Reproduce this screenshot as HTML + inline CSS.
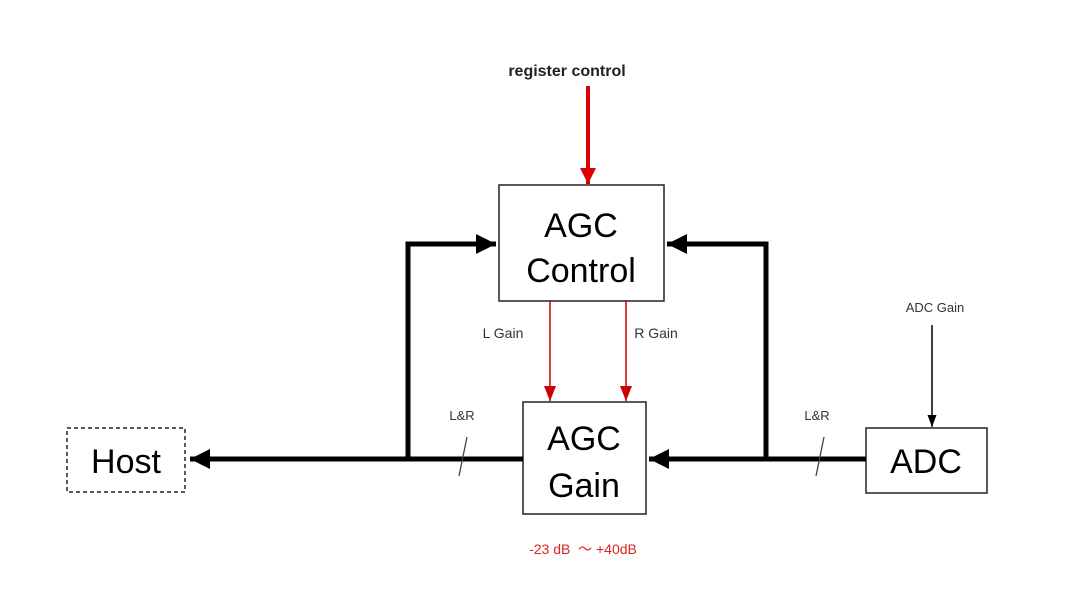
<!DOCTYPE html>
<html><head><style>
html,body{margin:0;padding:0;background:#fff;}
svg{display:block;font-family:"Liberation Sans",Arial,sans-serif;}
</style></head><body>
<svg width="1071" height="592" viewBox="0 0 1071 592" xmlns="http://www.w3.org/2000/svg">
<defs>
<marker id="bk" markerWidth="4" markerHeight="4" refX="4" refY="2" orient="auto" markerUnits="strokeWidth"><path d="M0,0 L4,2 L0,4 z" fill="#000"/></marker>
<marker id="bkt" markerWidth="8" markerHeight="8" refX="8" refY="4" orient="auto" markerUnits="strokeWidth"><path d="M0,1 L8,4 L0,7 z" fill="#000"/></marker>
<marker id="rd" markerWidth="4" markerHeight="4" refX="4" refY="2" orient="auto" markerUnits="strokeWidth"><path d="M0,0 L4,2 L0,4 z" fill="#d00"/></marker>
<marker id="rdt" markerWidth="10" markerHeight="10" refX="10" refY="5" orient="auto" markerUnits="strokeWidth"><path d="M0,1 L10,5 L0,9 z" fill="#c00"/></marker>
</defs>
<rect x="499" y="185" width="165" height="116" fill="#fff" stroke="#222" stroke-width="1.5"/>
<rect x="523" y="402" width="123" height="112" fill="#fff" stroke="#222" stroke-width="1.5"/>
<rect x="866" y="428" width="121" height="65" fill="#fff" stroke="#222" stroke-width="1.5"/>
<rect x="67" y="428" width="118" height="64" fill="#fff" stroke="#222" stroke-width="1.5" stroke-dasharray="4,3"/>
<text x="581" y="237" font-size="34" text-anchor="middle">AGC</text>
<text x="581" y="282" font-size="34" text-anchor="middle">Control</text>
<text x="584" y="450" font-size="34" text-anchor="middle">AGC</text>
<text x="584" y="497" font-size="34" text-anchor="middle">Gain</text>
<text x="926" y="473" font-size="34" text-anchor="middle">ADC</text>
<text x="126" y="473" font-size="34" text-anchor="middle">Host</text>
<g stroke="#000" stroke-width="5" fill="none">
<line x1="523" y1="459" x2="190" y2="459" marker-end="url(#bk)"/>
<polyline points="408,459 408,244 496,244" marker-end="url(#bk)"/>
<line x1="866" y1="459" x2="649" y2="459" marker-end="url(#bk)"/>
<polyline points="766,459 766,244 667,244" marker-end="url(#bk)"/>
</g>
<line x1="932" y1="325" x2="932" y2="427" stroke="#000" stroke-width="1.5" marker-end="url(#bkt)"/>
<line x1="588" y1="86" x2="588" y2="184" stroke="#d00" stroke-width="4" marker-end="url(#rd)"/>
<line x1="550" y1="301" x2="550" y2="401" stroke="#c00" stroke-width="1.5" marker-end="url(#rdt)"/>
<line x1="626" y1="301" x2="626" y2="401" stroke="#c00" stroke-width="1.5" marker-end="url(#rdt)"/>
<line x1="467" y1="437" x2="459" y2="476" stroke="#444" stroke-width="1.3"/>
<line x1="824" y1="437" x2="816" y2="476" stroke="#444" stroke-width="1.3"/>
<text x="567" y="76" font-size="16" font-weight="bold" text-anchor="middle" fill="#222">register control</text>
<text x="503" y="338" font-size="14" text-anchor="middle" fill="#333">L Gain</text>
<text x="656" y="338" font-size="14" text-anchor="middle" fill="#333">R Gain</text>
<text x="935" y="312" font-size="13" text-anchor="middle" fill="#333">ADC Gain</text>
<text x="462" y="420" font-size="13" text-anchor="middle" fill="#333">L&amp;R</text>
<text x="817" y="420" font-size="13" text-anchor="middle" fill="#333">L&amp;R</text>
<text x="583" y="554" font-size="14" text-anchor="middle" fill="#d22">-23 dB &#xA0;～ +40dB</text>
</svg>
</body></html>
